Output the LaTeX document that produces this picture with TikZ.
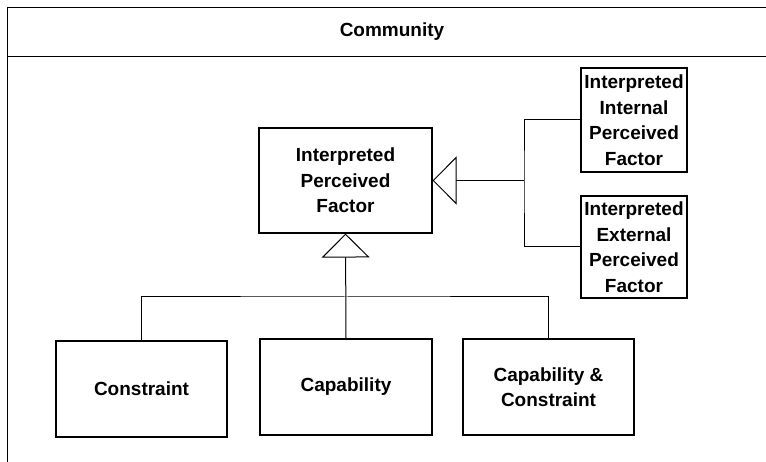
\documentclass[tikz,border=0pt]{standalone}
\usepackage{fontspec}
\setmainfont{Liberation Sans}
\usetikzlibrary{arrows.meta}
\begin{document}
\begin{tikzpicture}[x=1pt,y=-1pt,
  every node/.style={font=\bfseries\fontsize{19}{25.5}\selectfont},
  cls/.style={draw, line width=1.1pt, align=center, inner sep=0pt},
  link/.style={line width=1pt},
  gen/.style={line width=1pt, -{Triangle[open,length=24pt,width=48pt,fill=white]}}]
  \useasboundingbox (0,0) rectangle (766,462);
  \clip (0,0) rectangle (766,462);

  % package frame with its name compartment
  \draw[line width=1pt] (7,480) -- (7,8) -- (780,8);
  \draw[line width=1pt] (7,57) -- (780,57);
  \node (title) at (392,32) {Community};

  % classes
  \node[cls, minimum width=173pt, minimum height=105pt] (ipf) at (345.5,180.5)
    {Interpreted\\Perceived\\Factor};
  \node[cls, minimum width=106pt, minimum height=104pt] (int) at (634,120)
    {Interpreted\\Internal\\Perceived\\Factor};
  \node[cls, minimum width=106pt, minimum height=102pt] (ext) at (634,247)
    {Interpreted\\External\\Perceived\\Factor};
  \node[cls, minimum width=171pt, minimum height=96pt] (con) at (141.5,389)
    {Constraint};
  \node[cls, minimum width=172pt, minimum height=96pt] (cap) at (346,387)
    {Capability};
  \node[cls, minimum width=171pt, minimum height=96pt] (cc) at (548.5,387)
    {Capability \&\\Constraint};

  % generalization trees
  \coordinate (hb) at (346,297);
  \coordinate (vb) at (524,180.5);
  \draw[gen] (cap.north) -- (ipf.south);
  \draw[link] (con.north) |- (hb) -| (cc.north);
  \draw[gen] (vb) -- (ipf.east);
  \draw[link] (int.west) -| (vb) |- (ext.west);
\end{tikzpicture}
\end{document}
